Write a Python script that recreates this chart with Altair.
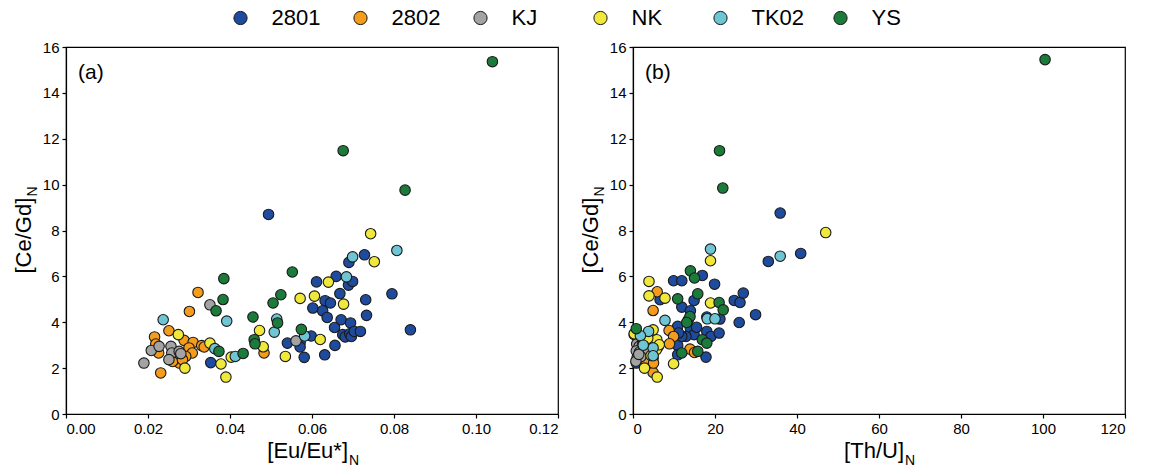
import altair as alt
import pandas as pd

FONT = "Liberation Sans"

groups = ["2801", "2802", "KJ", "NK", "TK02", "YS"]
colors = ["#1f4b9e", "#f39c1e", "#a3a3a3", "#f0e83a", "#6ec5d4", "#1b7b3b"]

# ---------------- panel (a): [Eu/Eu*]N vs [Ce/Gd]N ----------------
eu_2801 = [0.0494, 0.0353, 0.0540, 0.0571, 0.0571, 0.0581, 0.0598, 0.0602, 0.0611, 0.0626,
           0.0632, 0.0645, 0.0637, 0.0631, 0.0656, 0.0655, 0.0659, 0.0668, 0.0671, 0.0675,
           0.0681, 0.0692, 0.0696, 0.0694, 0.0703, 0.0718, 0.0689, 0.0699, 0.0690, 0.0728,
           0.0731, 0.0733, 0.0795, 0.0840]
ce_a_2801 = [8.70, 2.24, 3.09, 3.12, 2.92, 2.47, 3.40, 4.62, 5.76, 4.50,
             4.94, 4.84, 4.21, 2.58, 2.99, 3.77, 6.00, 5.25, 4.11, 3.46,
             3.36, 3.50, 3.38, 3.97, 3.60, 3.60, 5.62, 5.78, 6.61, 6.94,
             4.98, 4.30, 5.24, 3.67]

eu_2802 = [0.0322, 0.0301, 0.0251, 0.0216, 0.0219, 0.0226, 0.0231, 0.0288, 0.0310, 0.0331,
           0.0337, 0.0300, 0.0308, 0.0292, 0.0277, 0.0260, 0.0284, 0.0272, 0.0483]
ce_a_2802 = [5.30, 4.47, 3.63, 3.36, 3.05, 2.66, 1.79, 3.21, 3.12, 2.98,
             2.92, 2.88, 2.66, 2.51, 2.22, 2.29, 2.37, 2.66, 2.66]

eu_kj = [0.0351, 0.0190, 0.0208, 0.0227, 0.0256, 0.0258, 0.0251, 0.0276, 0.0280, 0.0561]
ce_a_kj = [4.76, 2.22, 2.77, 2.95, 2.95, 2.66, 2.37, 2.73, 2.63, 3.19]

eu_nk = [0.0274, 0.0351, 0.0378, 0.0390, 0.0290, 0.0403, 0.0472, 0.0481, 0.0535, 0.0571,
         0.0606, 0.0620, 0.0640, 0.0677, 0.0743, 0.0752]
ce_a_nk = [3.46, 3.09, 2.18, 1.61, 2.00, 2.48, 3.64, 2.93, 2.51, 5.04,
           5.14, 3.25, 5.75, 4.79, 7.86, 6.64]

eu_tk02 = [0.0237, 0.0392, 0.0363, 0.0413, 0.0514, 0.0508, 0.0582, 0.0684, 0.0699, 0.0807]
ce_a_tk02 = [4.11, 4.05, 2.85, 2.51, 4.14, 3.57, 3.40, 5.98, 6.85, 7.13]

eu_ys = [0.0385, 0.0383, 0.0366, 0.0373, 0.0432, 0.0456, 0.0459, 0.0461, 0.0505, 0.0524,
         0.0516, 0.0552, 0.0574, 0.0827, 0.0676, 0.1040]
ce_a_ys = [5.90, 4.99, 4.50, 2.73, 2.64, 4.23, 3.24, 3.06, 4.84, 5.20,
           3.97, 6.19, 3.69, 9.76, 11.48, 15.36]

# ---------------- panel (b): [Th/U]N vs [Ce/Gd]N ----------------
thu_2801 = [35.9, 40.9, 33.0, 16.9, 9.9, 11.9, 19.9, 6.6, 14.9, 11.9,
            14.0, 24.7, 26.1, 26.9, 29.9, 25.9, 21.2, 18.0, 10.9, 14.0,
            14.9, 12.9, 18.0, 19.0, 21.0, 10.9, 11.9, 10.9, 17.8, 0.8,
            11.1, 15.5, 13.5, 3.2]
ce_b_2801 = [8.76, 7.00, 6.65, 6.04, 5.81, 5.81, 5.66, 4.98, 4.95, 4.66,
             4.50, 4.95, 4.86, 5.27, 4.33, 3.99, 4.14, 4.23, 3.82, 3.72,
             3.46, 3.38, 3.60, 3.38, 3.53, 2.99, 3.38, 2.58, 2.48, 2.22,
             3.53, 3.78, 4.11, 2.90]

thu_2802 = [5.9, 4.9, 8.8, 9.9, 8.9, 13.9, 15.0, 4.9, 3.4, 3.0,
            4.2, 4.9, 3.0, 6.2, 5.4, 1.8, 5.0, 0.3, 3.4]
ce_b_2802 = [5.33, 4.51, 3.64, 3.38, 3.06, 2.83, 2.68, 1.81, 3.24, 2.95,
             2.73, 2.44, 2.37, 2.95, 3.16, 3.16, 2.22, 3.46, 2.80]

thu_kj = [0.9, 1.5, 2.3, 0.8, 1.6, 2.6, 1.0, 1.9, 0.7, 1.4]
ce_b_kj = [3.05, 2.95, 3.00, 2.75, 2.70, 2.75, 2.45, 2.50, 2.30, 2.60]

thu_nk = [47.0, 18.9, 3.9, 3.9, 7.8, 18.9, 9.9, 5.8, 4.9, 2.8,
          5.9, 5.7, 6.4, 0.3, 3.6, 4.4]
ce_b_nk = [7.91, 6.68, 5.78, 5.15, 5.05, 4.84, 2.19, 3.24, 3.67, 2.00,
           1.61, 2.80, 3.02, 3.50, 3.30, 2.55]

thu_tk02 = [18.9, 35.9, 7.8, 18.1, 20.0, 4.9, 4.9, 3.8, 1.8, 2.5]
ce_b_tk02 = [7.19, 6.88, 4.08, 4.15, 4.15, 2.88, 2.54, 3.60, 3.41, 3.00]

thu_ys = [100.5, 21.1, 21.9, 14.0, 15.0, 15.8, 10.9, 21.0, 22.0, 13.9,
          13.1, 16.9, 18.0, 15.8, 11.9, 0.8]
ce_b_ys = [15.45, 11.48, 9.85, 6.24, 5.93, 5.24, 5.02, 4.86, 4.54, 4.25,
           3.99, 3.24, 3.09, 2.73, 2.66, 3.72]

a_x = [eu_2801, eu_2802, eu_kj, eu_nk, eu_tk02, eu_ys]
a_y = [ce_a_2801, ce_a_2802, ce_a_kj, ce_a_nk, ce_a_tk02, ce_a_ys]
b_x = [thu_2801, thu_2802, thu_kj, thu_nk, thu_tk02, thu_ys]
b_y = [ce_b_2801, ce_b_2802, ce_b_kj, ce_b_nk, ce_b_tk02, ce_b_ys]


def frame(xs, ys):
    rows = []
    for g, xl, yl in zip(groups, xs, ys):
        for xv, yv in zip(xl, yl):
            rows.append({"x": xv, "y": yv, "group": g})
    return pd.DataFrame(rows)


df_a = frame(a_x, a_y)
df_b = frame(b_x, b_y)

W, H = 492, 367

legend = alt.Legend(
    orient="none", legendX=163.5, legendY=-40, direction="horizontal", title=None,
    labelFont=FONT, labelFontSize=22, labelColor="black", labelOffset=20,
    symbolType="circle", symbolSize=175, symbolStrokeColor="#1a1a1a", symbolStrokeWidth=1,
    symbolOpacity=1, gridAlign="all", columnPadding=25,
)


def text_layer(txt, x, y, size, align="left", baseline="alphabetic", angle=0):
    return alt.Chart(pd.DataFrame({"t": [txt]})).mark_text(
        font=FONT, fontSize=size, color="black", align=align, baseline=baseline, angle=angle
    ).encode(text="t:N", x=alt.value(x), y=alt.value(y))


def axis(values, fmt):
    return alt.Axis(values=values, format=fmt, title=None, grid=False,
                    labelFont=FONT, labelFontSize=15, labelColor="black",
                    tickColor="black", domainColor="black", domainWidth=1.2,
                    tickWidth=1.2, tickSize=4, labelPadding=3)


def panel(df, xdom, xticks, xfmt, label, xmain, xmain_w, show_legend):
    pts = alt.Chart(df).mark_circle(
        size=110, opacity=1, stroke="#1a1a1a", strokeWidth=1.1
    ).encode(
        x=alt.X("x:Q", scale=alt.Scale(domain=xdom, nice=False, zero=False),
                axis=axis(xticks, xfmt)),
        y=alt.Y("y:Q", scale=alt.Scale(domain=[0, 16], nice=False),
                axis=axis(list(range(0, 17, 2)), "d")),
        color=alt.Color("group:N", scale=alt.Scale(domain=groups, range=colors),
                        legend=legend if show_legend else None),
        order=alt.Order("idx:Q"),
    ).transform_window(idx="row_number()")
    cx = W / 2
    total = xmain_w + 11
    xr = cx - total / 2 + xmain_w
    layers = [
        pts,
        text_layer(label, 12, 15, 21, baseline="top"),
        text_layer(xmain, xr, 411, 22, align="right"),
        text_layer("N", xr + 1, 418, 14),
        text_layer("[Ce/Gd]", -35, H / 2 + 43, 22, align="left", angle=270),
        text_layer("N", -29, H / 2 + 43 - 77, 14, align="left", angle=270),
    ]
    return alt.layer(*layers).properties(width=W, height=H)


pa = panel(df_a, [0, 0.12], [0, 0.02, 0.04, 0.06, 0.08, 0.10, 0.12], ".2f", "(a)", "[Eu/Eu*]", 83, True)
pb = panel(df_b, [0, 120], [0, 20, 40, 60, 80, 100, 120], "d", "(b)", "[Th/U]", 61, False)

chart = alt.hconcat(pa, pb, spacing=19).properties(
    padding={"left": 12, "top": 7, "right": 5, "bottom": 5},
    background="white",
).configure_axis(grid=False).configure_view(stroke="black", strokeWidth=1.2)

chart.save("out.html", embed_options={"renderer": "svg", "actions": False})
